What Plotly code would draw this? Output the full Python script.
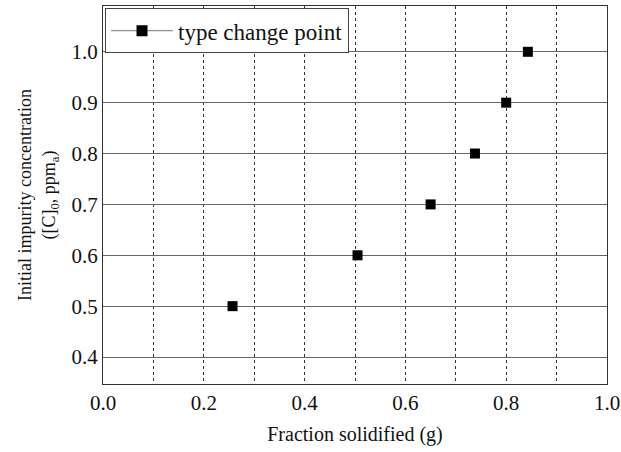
import plotly.graph_objects as go

fraction_solidified = [0.257, 0.505, 0.650, 0.738, 0.800, 0.843]
initial_concentration = [0.5, 0.6, 0.7, 0.8, 0.9, 1.0]
x_ticks = [0.0, 0.2, 0.4, 0.6, 0.8, 1.0]
x_ticktext = ["0.0", "0.2", "0.4", "0.6", "0.8", "1.0"]
y_ticks = [0.4, 0.5, 0.6, 0.7, 0.8, 0.9, 1.0]
y_ticktext = ["0.4", "0.5", "0.6", "0.7", "0.8", "0.9", "1.0"]

font = "Liberation Serif, Times New Roman, serif"

fig = go.Figure()
fig.add_trace(go.Scatter(
    x=fraction_solidified, y=initial_concentration, mode="markers",
    marker=dict(symbol="square", size=10, color="black"),
    showlegend=False,
))
fig.add_trace(go.Scatter(
    x=[None], y=[None], mode="lines+markers", name="type change point",
    marker=dict(symbol="square", size=11, color="black"),
    line=dict(color="#777777", width=1),
))

fig.update_layout(
    width=621, height=452,
    margin=dict(l=103, r=14, t=6, b=68),
    paper_bgcolor="white", plot_bgcolor="white",
    font=dict(family=font, size=20, color="#111111"),
    legend=dict(x=0.004, y=0.994, xanchor="left", yanchor="top",
                bordercolor="#444444", borderwidth=1, bgcolor="white",
                itemwidth=62, tracegroupgap=0,
                font=dict(family=font, size=23)),
    xaxis=dict(range=[0, 1.0], tickvals=x_ticks, ticktext=x_ticktext,
               showgrid=True, gridcolor="#333333", griddash="dot", gridwidth=1,
               minor=dict(dtick=0.1, tick0=0, showgrid=True, gridcolor="#333333",
                          griddash="dot", gridwidth=1, ticks=""),
               showline=True, linecolor="#333333", linewidth=1, mirror=True,
               zeroline=False, ticks="", tickfont=dict(size=21), automargin=False,
               title=dict(text="Fraction solidified (g)", font=dict(size=20), standoff=12)),
    yaxis=dict(range=[0.347, 1.09], tickvals=y_ticks, ticktext=y_ticktext,
               showgrid=True, gridcolor="#666666", gridwidth=1,
               showline=True, linecolor="#333333", linewidth=1, mirror=True,
               zeroline=False, ticks="", tickfont=dict(size=21), automargin=False,
               title=dict(text="Initial impurity concentration<br>([C]<sub>0</sub>, ppm<sub>a</sub>)",
                          font=dict(size=18), standoff=11)),
)

fig.write_html("out.html", config={"displayModeBar": False},
               post_script="document.body.style.margin='0';document.body.style.overflow='hidden';")
